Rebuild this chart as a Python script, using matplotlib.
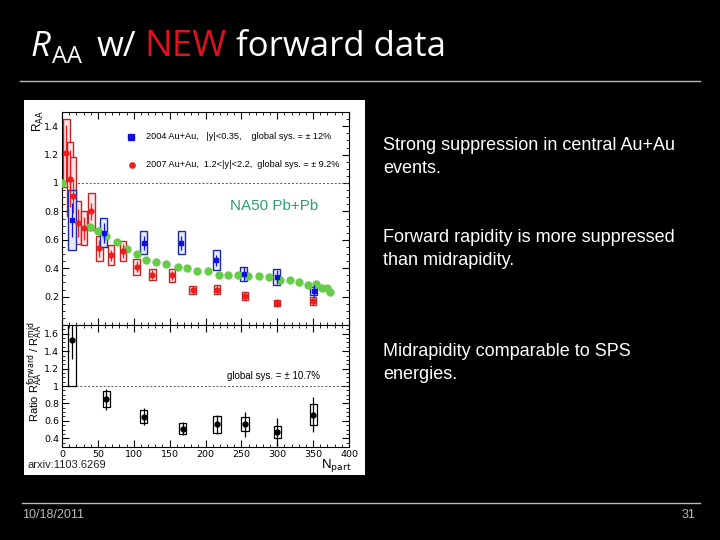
import numpy as np
import matplotlib
matplotlib.use("Agg")
from matplotlib import pyplot as plt
from matplotlib.ticker import MultipleLocator

# DATA
# PHENIX 2004 Au+Au, |y|<0.35 (midrapidity)
blue_npart = [14, 58, 114, 166, 215, 253, 299, 351]
blue_raa = [0.74, 0.65, 0.58, 0.58, 0.455, 0.36, 0.34, 0.24]
blue_stat = [0.12, 0.07, 0.05, 0.05, 0.04, 0.05, 0.05, 0.04]
blue_sys = [0.21, 0.10, 0.08, 0.08, 0.07, 0.05, 0.055, 0.03]

# PHENIX 2007 Au+Au, 1.2<|y|<2.2 (forward)
red_npart = [6, 11, 15, 22, 31, 41, 52, 68, 85, 104, 126, 153, 182, 216, 255, 300, 350]
red_raa = [1.21, 1.03, 0.91, 0.72, 0.68, 0.80, 0.54, 0.49, 0.52, 0.41, 0.355,
           0.35, 0.245, 0.25, 0.205, 0.155, 0.17]
red_stat = [0.2, 0.2, 0.12, 0.1, 0.08, 0.06, 0.06, 0.04, 0.05, 0.04, 0.03,
            0.03, 0.03, 0.03, 0.03, 0.03, 0.03]
red_sys = [0.24, 0.26, 0.27, 0.15, 0.12, 0.13, 0.09, 0.07, 0.07, 0.055, 0.04,
           0.045, 0.03, 0.035, 0.03, 0.02, 0.03]

# NA50 Pb+Pb
na50_npart = [0, 39.5, 50, 62, 76, 90, 104, 117.5, 131.5, 145, 162, 174.7, 188.6,
              203.5, 218.4, 231.4, 245, 259.7, 274.6, 288.5, 304, 318, 331, 343,
              354.5, 362.8, 369.4, 374]
na50_raa = [1.0, 0.69, 0.66, 0.625, 0.585, 0.535, 0.50, 0.455, 0.445, 0.43, 0.405,
            0.40, 0.38, 0.38, 0.355, 0.35, 0.35, 0.345, 0.345, 0.34, 0.32, 0.32,
            0.305, 0.285, 0.29, 0.26, 0.26, 0.235]

# Ratio forward / mid
ratio_npart = [14, 62, 114, 168, 216, 255, 300, 350]
ratio_val = [1.53, 0.85, 0.65, 0.51, 0.56, 0.56, 0.47, 0.67]
ratio_stat = [0.22, 0.12, 0.10, 0.075, 0.11, 0.14, 0.16, 0.20]
ratio_sys = [0.53, 0.09, 0.08, 0.065, 0.095, 0.08, 0.07, 0.12]

W, H = 720, 540


def fx(x):
    return x / W


def fy(y):
    return 1 - y / H


fig = plt.figure(figsize=(7.2, 5.4), dpi=100, facecolor="black")

# white chart background (an empty axes behind the plots)
bg = fig.add_axes([fx(24), fy(475), fx(365) - fx(24), fy(100) - fy(475)], zorder=-1)
bg.set_facecolor("white")
bg.set_xticks([])
bg.set_yticks([])
for s in bg.spines.values():
    s.set_visible(False)

ax1 = fig.add_axes([fx(62), fy(325), fx(349) - fx(62), fy(112) - fy(325)])
ax2 = fig.add_axes([fx(62), fy(447), fx(349) - fx(62), fy(325) - fy(447)])


def root_style(ax):
    ax.set_facecolor("white")
    ax.tick_params(which="both", direction="in", top=True, right=True,
                   labelsize=6.8, colors="black", pad=2)
    ax.tick_params(which="major", length=5)
    ax.tick_params(which="minor", length=2.5)
    ax.xaxis.set_major_locator(MultipleLocator(50))
    ax.xaxis.set_minor_locator(MultipleLocator(10))
    ax.set_xlim(0, 400)
    for s in ax.spines.values():
        s.set_linewidth(0.8)


# TOP PANEL
root_style(ax1)
ax1.set_ylim(0, 1.5)
ax1.yaxis.set_minor_locator(MultipleLocator(0.05))
ax1.set_yticks([0.2, 0.4, 0.6, 0.8, 1.0, 1.2, 1.4])
ax1.set_yticklabels(["0.2", "0.4", "0.6", "0.8", "1", "1.2", "1.4"])
ax1.tick_params(labelbottom=False)
ax1.axhline(1.0, color="#555555", lw=0.7, ls=(0, (2, 2)))

# systematic boxes
ax1.bar(red_npart, 2 * np.array(red_sys), bottom=np.array(red_raa) - np.array(red_sys),
        width=9, fill=True, facecolor="#ffe4e4", edgecolor="#c02828", lw=1.0, zorder=2)
ax1.bar(blue_npart, 2 * np.array(blue_sys), bottom=np.array(blue_raa) - np.array(blue_sys),
        width=10, fill=True, facecolor="#e6e8ff", edgecolor="#1c2ca0", lw=1.0, zorder=2)

ax1.plot(na50_npart, na50_raa, "o", color="#66cc4a", ms=6, mec="none", zorder=3)

ax1.errorbar(red_npart, red_raa, yerr=red_stat, fmt="o", color="#ee1c1c", ms=3.5,
             elinewidth=0.9, capsize=0, zorder=4)
ax1.errorbar(blue_npart, blue_raa, yerr=blue_stat, fmt="s", color="#1010dd", ms=3.5,
             elinewidth=0.9, capsize=0, zorder=4)

# legend entries
ax1.plot([96], [1.325], "s", color="#1010dd", ms=3.8, clip_on=False)
ax1.plot([98], [1.13], "o", color="#ee1c1c", ms=3.8, clip_on=False)
ax1.text(117, 1.325, "2004 Au+Au,   |y|<0.35,    global sys. = \u00b1 12%",
         fontsize=6.6, va="center", family="Liberation Sans")
ax1.text(117, 1.13, "2007 Au+Au,  1.2<|y|<2.2,  global sys. = \u00b1 9.2%",
         fontsize=6.6, va="center", family="Liberation Sans")
ax1.text(234, 0.84, "NA50 Pb+Pb", fontsize=11, color="#2e9e72", va="center",
         family="Liberation Sans")

# BOTTOM PANEL
root_style(ax2)
ax2.set_ylim(0.3, 1.7)
ax2.set_yticks([0.4, 0.6, 0.8, 1.0, 1.2, 1.4, 1.6])
ax2.set_yticklabels(["0.4", "0.6", "0.8", "1", "1.2", "1.4", "1.6"])
ax2.yaxis.set_minor_locator(MultipleLocator(0.05))
ax2.set_xticks(range(0, 401, 50))
ax2.set_xticklabels([str(v) for v in range(0, 401, 50)])
ax2.axhline(1.0, xmin=0.05, color="#555555", lw=0.7, ls=(0, (2, 2)))
ax2.bar(ratio_npart, 2 * np.array(ratio_sys),
        bottom=np.array(ratio_val) - np.array(ratio_sys),
        width=10, fill=False, edgecolor="black", lw=0.9, zorder=2)
ax2.errorbar(ratio_npart, ratio_val, yerr=ratio_stat, fmt="o", color="black", ms=3.5,
             elinewidth=0.9, capsize=0, zorder=3)
ax2.text(230, 1.12, "global sys. = \u00b1 10.7%", fontsize=7, va="center",
         family="Liberation Sans")

# axis labels
fig.text(fx(38), fy(121), r"R$_{\rm AA}$", rotation=90, fontsize=8.5,
         ha="center", va="center", color="black", family="Liberation Sans")
fig.text(fx(35), fy(372), r"Ratio R$_{\rm AA}^{\rm forward}$ / R$_{\rm AA}^{\rm mid}$",
         rotation=90, fontsize=8, ha="center", va="center", color="black",
         family="Liberation Sans")
fig.text(fx(352), fy(466), r"N$_{\rm part}$", fontsize=9.5, ha="right", va="center",
         color="black", family="Liberation Sans")
fig.text(fx(28), fy(465), "arxiv:1103.6269", fontsize=8, ha="left", va="center",
         color="#222222", family="Liberation Sans")

# SLIDE DECORATION
title_font = ["Open Sans", "DejaVu Sans"]
fig.text(fx(31), fy(56), "R", fontsize=25, style="italic", color="white",
         family=title_font, va="baseline")
fig.text(fx(52), fy(63), "AA", fontsize=17, color="white", family=title_font,
         va="baseline")
fig.text(fx(97), fy(56), "w/", fontsize=25, color="white", family=title_font,
         va="baseline")
fig.text(fx(144), fy(56), "NEW", fontsize=26.5, color="#e01020", family=title_font,
         va="baseline")
fig.text(fx(236), fy(56), "forward data", fontsize=25, color="white",
         family=title_font, va="baseline")

fig.add_artist(plt.Line2D([fx(20), fx(700)], [fy(81), fy(81)], color="#bbbbbb", lw=1))
fig.add_artist(plt.Line2D([fx(22), fx(700)], [fy(503), fy(503)], color="#bbbbbb", lw=1))
fig.text(fx(22), fy(515), "10/18/2011", fontsize=9, color="#bbbbbb",
         family="Liberation Sans", va="center")
fig.text(fx(695), fy(515), "31", fontsize=9, color="#bbbbbb",
         family="Liberation Sans", va="center", ha="right")

body = dict(fontsize=13, color="white", family="Liberation Sans", va="center",
            linespacing=1.45)
fig.text(fx(383), fy(157), "Strong suppression in central Au+Au\nevents.", **body)
fig.text(fx(383), fy(249), "Forward rapidity is more suppressed\nthan midrapidity.", **body)
fig.text(fx(383), fy(363), "Midrapidity comparable to SPS\nenergies.", **body)

fig.savefig("out.png", dpi=100, facecolor="black")
